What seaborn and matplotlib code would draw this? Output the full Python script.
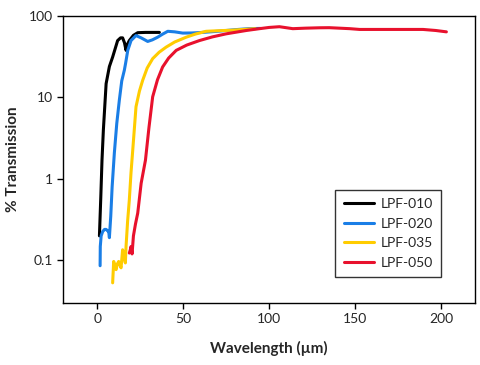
import pandas as pd
import numpy as np
import matplotlib.pyplot as plt
import seaborn as sns

sns.set_style('ticks')
plt.rcParams['font.family'] = ['Lato', 'DejaVu Sans']

# wavelength (um) / % transmission
lpf010_x = [1.2, 2.0, 2.7, 3.5, 5.1, 7.0, 8.9, 11.8, 13.5, 14.7, 15.8, 16.7, 17.5, 18.6, 21.0, 23.5, 28.0, 36.1]
lpf010_y = [0.2, 0.6, 1.7, 4.0, 14.8, 24.0, 31.4, 50.0, 54.0, 54.0, 47.0, 37.9, 45.0, 50.0, 58.0, 62.5, 63.0, 63.0]

lpf020_x = [1.6, 1.7, 2.2, 3.1, 4.2, 5.1, 6.0, 6.6, 7.0, 7.8, 8.6, 9.9, 11.3, 12.8, 14.2, 15.7, 16.4, 17.7,
            19.6, 22.5, 25.5, 29.3, 32.0, 35.1, 38.0, 41.0, 45.0, 49.7, 55.0, 61.4, 70.0, 80.0, 88.0, 95.0]
lpf020_y = [0.086, 0.148, 0.2, 0.226, 0.24, 0.24, 0.23, 0.226, 0.19, 0.35, 0.8, 2.1, 4.8, 9.3, 16.0, 21.6, 26.0, 37.9,
            50.0, 57.6, 54.0, 48.8, 51.0, 55.0, 60.0, 65.0, 64.0, 61.8, 62.0, 63.0, 65.0, 68.0, 70.0, 70.5]

lpf035_x = [8.9, 9.5, 10.3, 10.9, 11.6, 12.4, 13.1, 13.8, 14.7, 15.5, 16.3, 16.7, 17.6, 18.6, 19.6, 20.6,
            22.5, 24.5, 26.4, 29.0, 32.2, 36.0, 40.0, 45.0, 51.7, 57.0, 63.3, 70.0, 78.0, 85.0, 92.0]
lpf035_y = [0.053, 0.097, 0.085, 0.077, 0.09, 0.097, 0.088, 0.081, 0.135, 0.11, 0.093, 0.148, 0.3, 0.55, 1.2, 2.26,
            7.7, 12.0, 16.3, 23.0, 30.0, 36.0, 41.5, 48.0, 55.0, 60.0, 65.0, 66.0, 67.0, 68.5, 70.0]

lpf050_x = [18.6, 19.2, 19.6, 20.2, 21.0, 22.2, 23.5, 25.5, 28.0, 30.0, 32.2, 35.0, 38.0, 41.5, 45.9, 52.0,
            59.4, 67.0, 75.0, 86.7, 94.4, 100.0, 106.0, 113.8, 121.0, 129.4, 135.0, 141.0, 147.0, 152.7, 165.0,
            178.0, 189.6, 197.0, 203.2]
lpf050_y = [0.123, 0.135, 0.148, 0.12, 0.2, 0.28, 0.38, 0.886, 1.7, 4.2, 10.2, 16.5, 23.7, 30.5, 37.9, 44.0,
            50.0, 55.5, 60.5, 66.5, 70.0, 72.5, 74.0, 70.0, 71.0, 71.8, 72.0, 71.0, 70.0, 68.5, 68.5,
            68.5, 68.5, 66.5, 64.0]

names = ['LPF-010', 'LPF-020', 'LPF-035', 'LPF-050']
colors = ['#000000', '#1a7ee6', '#ffcc00', '#e8112d']
y_ticks = [0.1, 1, 10, 100]
y_labels = ['0.1', '1', '10', '100']
x_ticks = [0, 50, 100, 150, 200]

frames = []
for name, xs, ys in zip(names, [lpf010_x, lpf020_x, lpf035_x, lpf050_x],
                        [lpf010_y, lpf020_y, lpf035_y, lpf050_y]):
    frames.append(pd.DataFrame({'wl': xs, 'T': ys, 'filter': name}))
df = pd.concat(frames, ignore_index=True)

fig = plt.figure(figsize=(4.81, 3.65), dpi=100)
ax = fig.add_axes([0.131, 0.170, 0.857, 0.786])
sns.lineplot(data=df, x='wl', y='T', hue='filter', palette=colors, sort=False,
             estimator=None, linewidth=2.2, ax=ax)

ax.set_yscale('log')
ax.set_xlim(-20, 220)
ax.set_ylim(0.03, 100)
ax.set_xticks(x_ticks)
ax.set_yticks(y_ticks)
ax.set_yticklabels(y_labels)
ax.minorticks_off()
ax.tick_params(labelsize=10, length=4, width=1, color='black', direction='out')
for s in ax.spines.values():
    s.set_visible(True)
    s.set_color('black')
    s.set_linewidth(1)
ax.set_xlabel('Wavelength (µm)', fontsize=11, fontweight='bold', labelpad=11)
ax.set_ylabel('% Transmission', fontsize=11, fontweight='bold', labelpad=6)

leg = ax.legend(loc='lower right', bbox_to_anchor=(0.917, 0.09), borderaxespad=0, fontsize=10,
                frameon=True, fancybox=False, edgecolor='black', handlelength=2.2,
                borderpad=0.6, labelspacing=0.55, handletextpad=0.45)
leg.get_frame().set_linewidth(1)
for line in leg.get_lines():
    line.set_linewidth(2.2)

fig.savefig('out.png', dpi=100)
